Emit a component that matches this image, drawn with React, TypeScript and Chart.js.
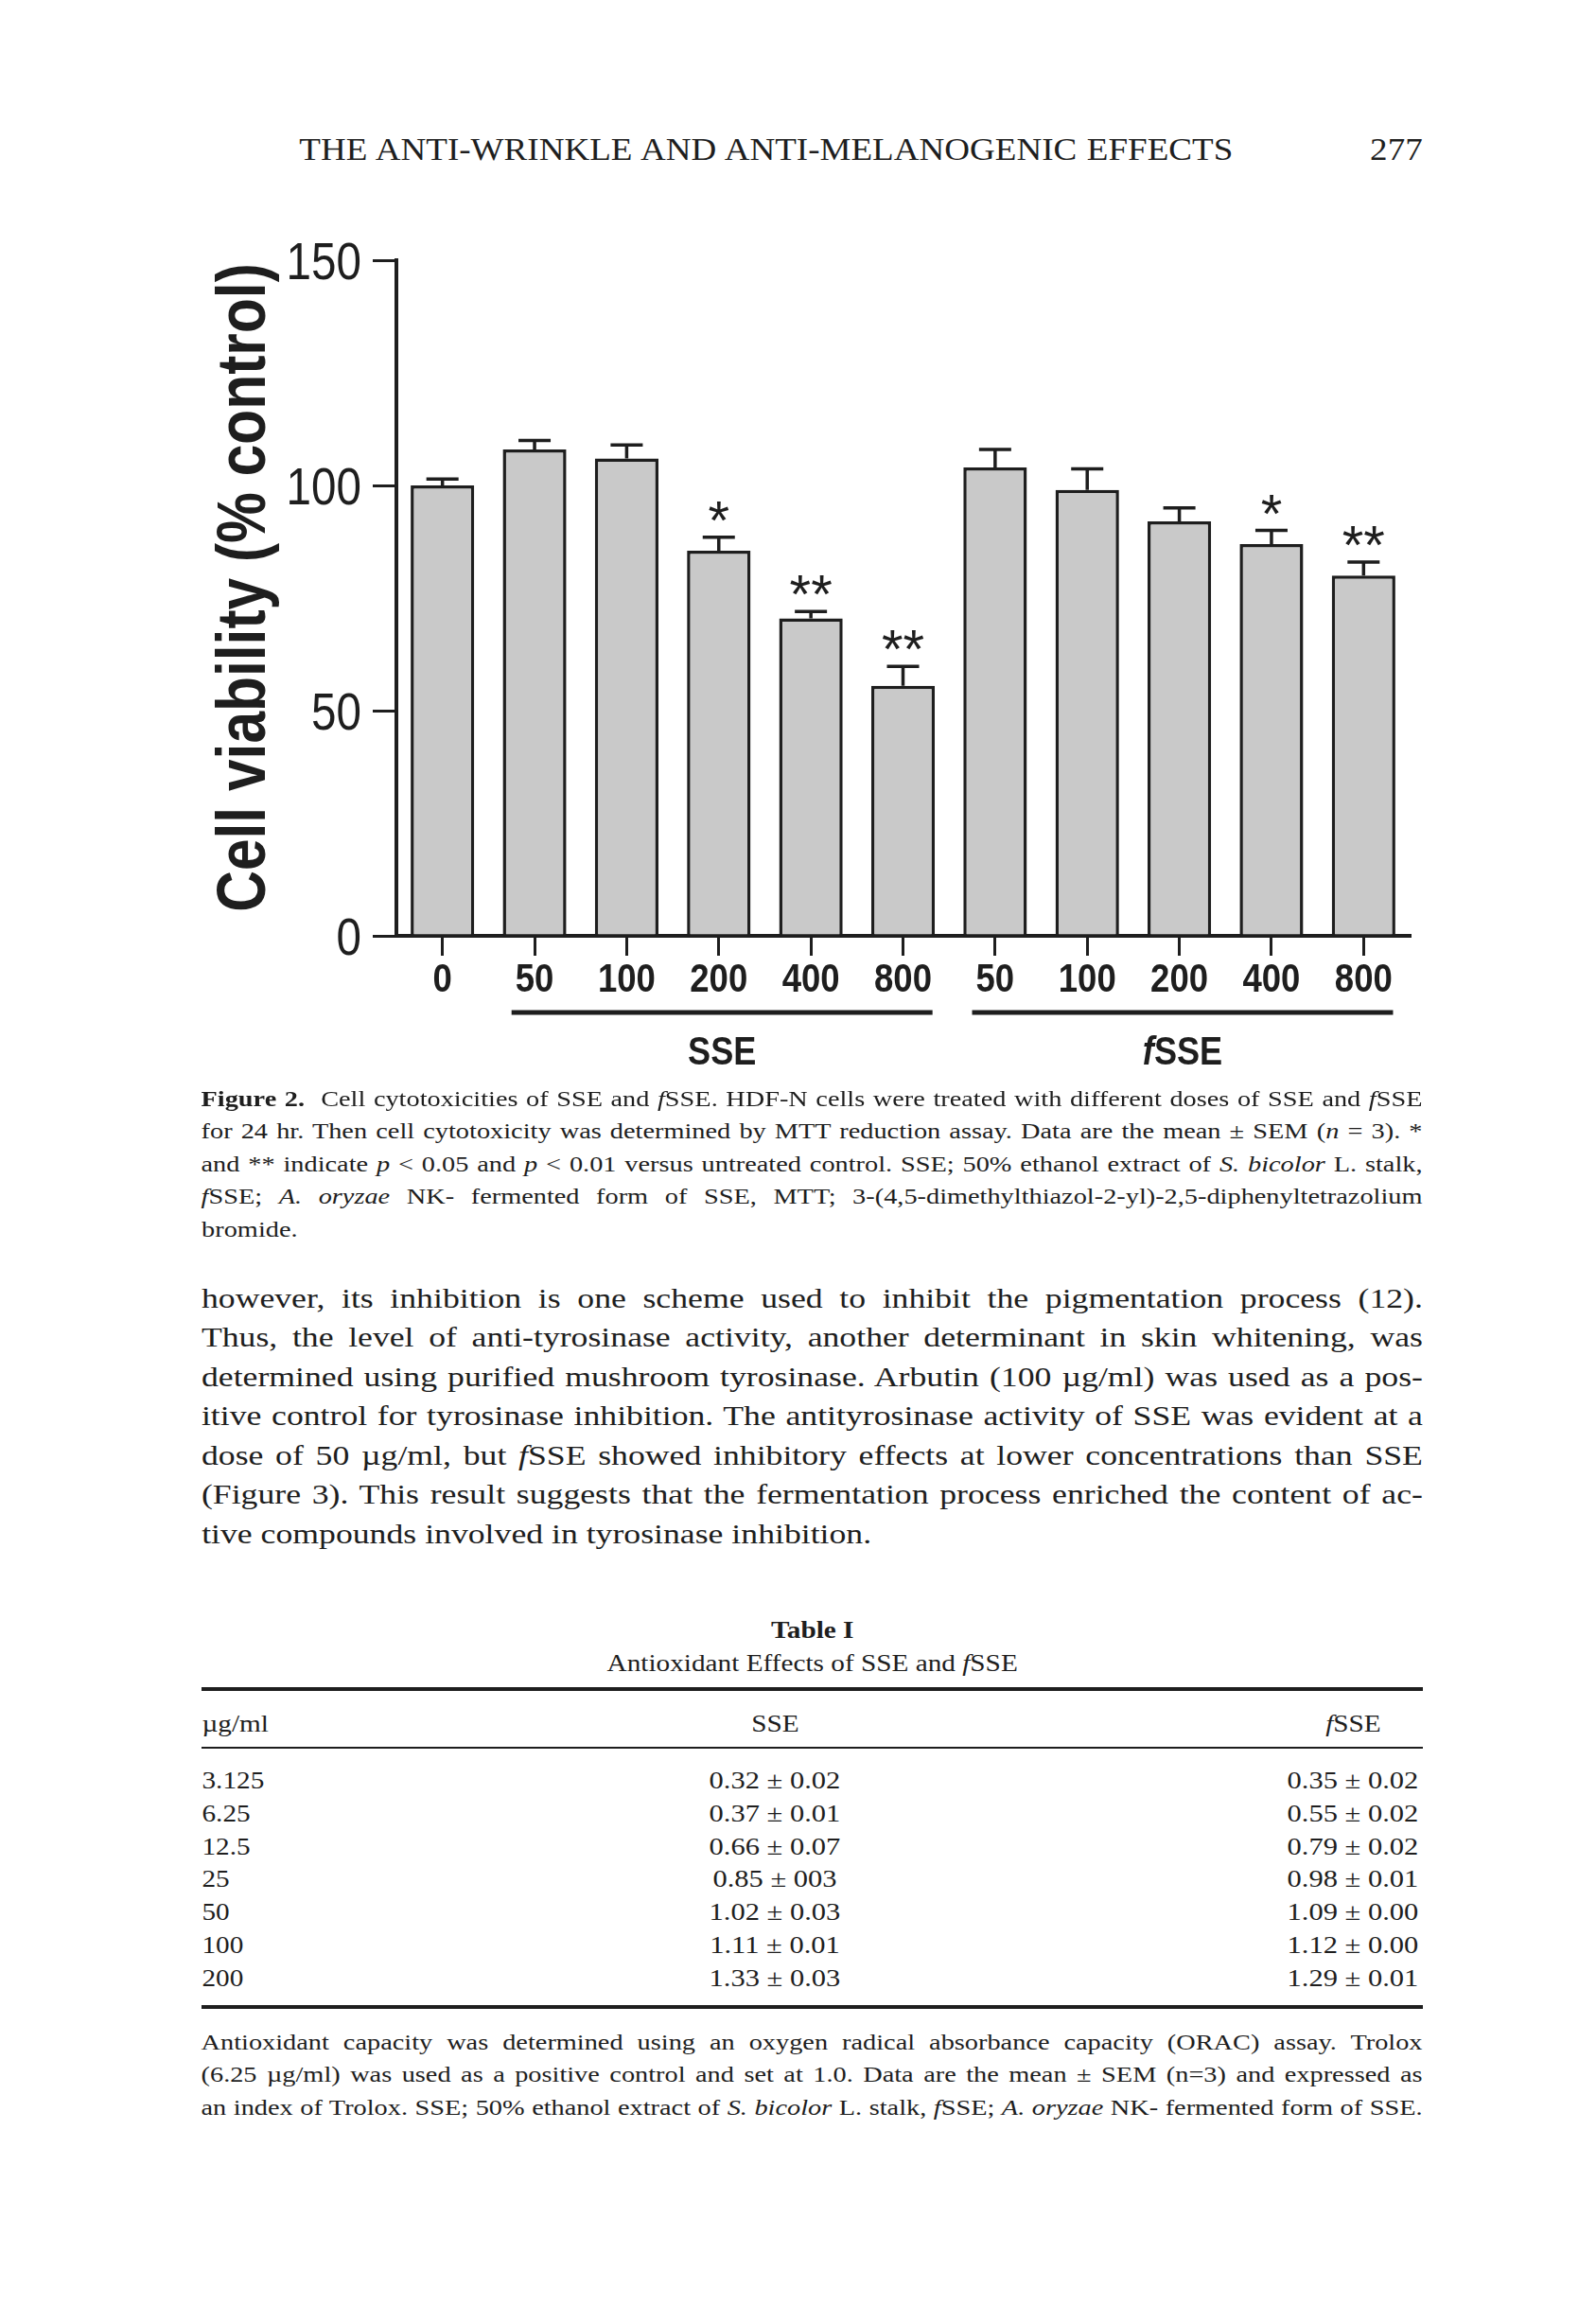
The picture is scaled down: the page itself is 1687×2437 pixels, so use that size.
import React, { useEffect, useRef } from "react";
import { Chart, registerables } from "chart.js";
Chart.register(...registerables);

// ---- chart data ----
const doses = ["0", "50", "100", "200", "400", "800", "50", "100", "200", "400", "800"];
const viability = [100, 108, 106, 85.5, 70.5, 55.5, 104, 99, 92, 87, 80];
const sem = [1.4, 2, 3, 3, 1.5, 4.3, 4, 4.7, 3, 3, 3];
const significance = ["", "", "", "*", "**", "**", "", "", "", "*", "**"];
const groupNames = ["SSE", "fSSE"];
const groupStart = [1, 6];
const groupEnd = [5, 10];
const yMin = 0;
const yMax = 150;
const yStep = 50;
const yTitle = "Cell viability (% control)";

// ---- table data ----
const tableDoses = ["3.125", "6.25", "12.5", "25", "50", "100", "200"];
const tableSSE = ["0.32 ± 0.02", "0.37 ± 0.01", "0.66 ± 0.07", "0.85 ± 003", "1.02 ± 0.03", "1.11 ± 0.01", "1.33 ± 0.03"];
const tableFSSE = ["0.35 ± 0.02", "0.55 ± 0.02", "0.79 ± 0.02", "0.98 ± 0.01", "1.09 ± 0.00", "1.12 ± 0.00", "1.29 ± 0.01"];

const INK = "#1e1e1e";
const SANS = "'Liberation Sans', Arial, sans-serif";
const SERIF = "'Liberation Serif', 'Times New Roman', serif";

// draw text horizontally condensed
function narrowText(ctx: any, text: string, x: number, y: number, font: string, sx: number, align: string) {
  ctx.save();
  ctx.translate(x, y);
  ctx.scale(sx, 1);
  ctx.font = font;
  ctx.textAlign = align;
  ctx.textBaseline = "alphabetic";
  ctx.fillText(text, 0, 0);
  ctx.restore();
}

const overlayPlugin = {
  id: "overlay",
  afterDatasetsDraw(chart: any) {
    const { ctx, scales } = chart;
    const x = scales.x;
    const y = scales.y;
    ctx.save();
    ctx.strokeStyle = INK;
    ctx.fillStyle = INK;
    ctx.lineWidth = 3.5;
    // error bars + significance marks
    viability.forEach((v, i) => {
      const cx = x.getPixelForValue(i);
      const yBar = y.getPixelForValue(v);
      const yTop = y.getPixelForValue(v + sem[i]);
      ctx.beginPath();
      ctx.moveTo(cx, yBar);
      ctx.lineTo(cx, yTop);
      ctx.moveTo(cx - 17, yTop);
      ctx.lineTo(cx + 17, yTop);
      ctx.stroke();
      if (significance[i]) {
        ctx.font = `58px ${SANS}`;
        ctx.textAlign = "center";
        ctx.textBaseline = "alphabetic";
        ctx.fillText(significance[i], cx, yTop + 2);
      }
    });
    // y tick labels
    y.ticks.forEach((t: any) => {
      const py = y.getPixelForValue(t.value);
      narrowText(ctx, String(t.value), y.right - 37, py + 20, `56px ${SANS}`, 0.85, "right");
    });
    // x tick labels
    doses.forEach((d, i) => {
      const px = x.getPixelForValue(i);
      narrowText(ctx, d, px, y.bottom + 59, `bold 42px ${SANS}`, 0.87, "center");
    });
    // group lines and labels
    const catW = x.getPixelForValue(1) - x.getPixelForValue(0);
    const lineY = y.bottom + 81;
    const labelBase = y.bottom + 136;
    groupNames.forEach((g, k) => {
      const x0 = x.getPixelForValue(groupStart[k]) - catW * 0.25;
      const x1 = x.getPixelForValue(groupEnd[k]) + catW * 0.32;
      ctx.lineWidth = 5;
      ctx.beginPath();
      ctx.moveTo(x0, lineY);
      ctx.lineTo(x1, lineY);
      ctx.stroke();
      const mid = (x0 + x1) / 2;
      const sx = 0.86;
      if (g.startsWith("f")) {
        ctx.font = `italic bold 42px ${SANS}`;
        const fw = ctx.measureText("f").width * sx;
        ctx.font = `bold 42px ${SANS}`;
        const rw = ctx.measureText(g.slice(1)).width * sx;
        const start = mid - (fw + rw) / 2;
        narrowText(ctx, "f", start, labelBase, `italic bold 42px ${SANS}`, sx, "left");
        narrowText(ctx, g.slice(1), start + fw, labelBase, `bold 42px ${SANS}`, sx, "left");
      } else {
        narrowText(ctx, g, mid, labelBase, `bold 42px ${SANS}`, sx, "center");
      }
    });
    // y axis title
    ctx.save();
    ctx.translate(80, (y.top + y.bottom) / 2 - 11);
    ctx.rotate(-Math.PI / 2);
    ctx.scale(0.84, 1);
    ctx.font = `bold 72px ${SANS}`;
    ctx.textAlign = "center";
    ctx.textBaseline = "alphabetic";
    ctx.fillText(yTitle, 0, 0);
    ctx.restore();
    ctx.restore();
  },
};

function ChartBox() {
  const ref = useRef<HTMLCanvasElement | null>(null);
  useEffect(() => {
    if (!ref.current) return;
    const chart = new Chart(ref.current, {
      type: "bar",
      data: {
        labels: doses,
        datasets: [
          {
            data: viability,
            backgroundColor: "#c9c9c9",
            borderColor: INK,
            borderWidth: 3.5,
            categoryPercentage: 1,
            barPercentage: 0.69,
          },
        ],
      },
      options: {
        animation: false,
        responsive: false,
        maintainAspectRatio: false,
        devicePixelRatio: 1,
        layout: { padding: { top: 50, right: 30, left: 0, bottom: 0 }, autoPadding: false },
        plugins: { legend: { display: false }, tooltip: { enabled: false } },
        scales: {
          x: {
            offset: true,
            grid: { offset: false, drawOnChartArea: false, tickLength: 21, lineWidth: 3, color: INK },
            border: { display: true, width: 4, color: INK },
            ticks: { display: false, autoSkip: false },
            afterFit: (s: any) => {
              s.height = 161;
            },
          },
          y: {
            min: yMin,
            max: yMax,
            ticks: { display: false, stepSize: yStep },
            grid: { drawOnChartArea: false, tickLength: 25, lineWidth: 3, color: INK },
            border: { display: true, width: 4, color: INK },
            title: { display: false, text: yTitle },
            afterFit: (s: any) => {
              s.width = 219;
            },
          },
        },
      } as any,
      plugins: [overlayPlugin],
    });
    return () => chart.destroy();
  }, []);
  return (
    <canvas
      ref={ref}
      width={1320}
      height={925}
      style={{ position: "absolute", left: 200, top: 225, width: 1320, height: 925 }}
    />
  );
}

const LEFT = 213;
const WIDTH = 1291;

function Line({ y, fs, children, justify = false, align = "left", left = LEFT, width = WIDTH, sx = 1, style = {} }: any) {
  const w = width / sx;
  return (
    <div
      style={{
        position: "absolute",
        left: left + (width - w) / 2,
        width: w,
        top: y - 0.8375 * fs,
        fontSize: fs,
        lineHeight: `${fs}px`,
        whiteSpace: "nowrap",
        textAlign: justify ? "justify" : align,
        textAlignLast: justify ? "justify" : align,
        transform: `scaleX(${sx})`,
        transformOrigin: "center top",
        ...style,
      }}
    >
      {children}
    </div>
  );
}

const F = () => <i>f</i>;

export default function App() {
  const capY = 1169;
  const capStep = 34.5;
  const bodyY = 1382;
  const bodyStep = 41.5;
  const rowY = 1890;
  const rowStep = 34.8;
  const noteY = 2166;
  const noteStep = 34.5;
  const CS = 1.18; // caption stretch
  const BS = 1.19; // body stretch
  const TS = 1.17; // table stretch
  return (
    <div
      style={{
        position: "absolute",
        left: 0,
        top: 0,
        width: 1687,
        height: 2437,
        background: "#fff",
        fontFamily: SERIF,
        color: INK,
        overflow: "hidden",
      }}
    >
      <Line y={169} fs={34} left={316} width={987} sx={1.09} justify>
        THE ANTI-WRINKLE AND ANTI-MELANOGENIC EFFECTS
      </Line>
      <Line y={169} fs={34} left={1400} width={104} sx={1.09} align="right">
        277
      </Line>

      <ChartBox />

      <Line y={capY} fs={24} sx={CS} justify>
        <b>Figure 2.</b>&nbsp; Cell cytotoxicities of SSE and <F />SSE. HDF-N cells were treated with different doses of SSE and <F />SSE
      </Line>
      <Line y={capY + capStep} fs={24} sx={CS} justify>
        for 24 hr. Then cell cytotoxicity was determined by MTT reduction assay. Data are the mean ± SEM (<i>n</i> = 3). *
      </Line>
      <Line y={capY + capStep * 2} fs={24} sx={CS} justify>
        and ** indicate <i>p</i> &lt; 0.05 and <i>p</i> &lt; 0.01 versus untreated control. SSE; 50% ethanol extract of <i>S. bicolor</i> L. stalk,
      </Line>
      <Line y={capY + capStep * 3} fs={24} sx={CS} justify>
        <F />SSE; <i>A. oryzae</i> NK- fermented form of SSE, MTT; 3-(4,5-dimethylthiazol-2-yl)-2,5-diphenyltetrazolium
      </Line>
      <Line y={capY + capStep * 4} fs={24} sx={CS} left={LEFT} width={300}>
        bromide.
      </Line>

      <Line y={bodyY} fs={30} sx={BS} justify>
        however, its inhibition is one scheme used to inhibit the pigmentation process (12).
      </Line>
      <Line y={bodyY + bodyStep} fs={30} sx={BS} justify>
        Thus, the level of anti-tyrosinase activity, another determinant in skin whitening, was
      </Line>
      <Line y={bodyY + bodyStep * 2} fs={30} sx={BS} justify>
        determined using purified mushroom tyrosinase. Arbutin (100 µg/ml) was used as a pos-
      </Line>
      <Line y={bodyY + bodyStep * 3} fs={30} sx={BS} justify>
        itive control for tyrosinase inhibition. The antityrosinase activity of SSE was evident at a
      </Line>
      <Line y={bodyY + bodyStep * 4} fs={30} sx={BS} justify>
        dose of 50 µg/ml, but <F />SSE showed inhibitory effects at lower concentrations than SSE
      </Line>
      <Line y={bodyY + bodyStep * 5} fs={30} sx={BS} justify>
        (Figure 3). This result suggests that the fermentation process enriched the content of ac-
      </Line>
      <Line y={bodyY + bodyStep * 6} fs={30} sx={BS} left={LEFT} width={900}>
        tive compounds involved in tyrosinase inhibition.
      </Line>

      <Line y={1731} fs={25} sx={TS} align="center" style={{ fontWeight: "bold" }}>
        Table I
      </Line>
      <Line y={1766} fs={25} sx={TS} align="center">
        Antioxidant Effects of SSE and <F />SSE
      </Line>
      <div style={{ position: "absolute", left: LEFT, width: WIDTH, top: 1783, height: 4, background: INK }} />
      <Line y={1830} fs={25} sx={TS} left={LEFT} width={200}>µg/ml</Line>
      <Line y={1830} fs={25} sx={TS} left={719} width={200} align="center">SSE</Line>
      <Line y={1830} fs={25} sx={TS} left={1330} width={200} align="center"><F />SSE</Line>
      <div style={{ position: "absolute", left: LEFT, width: WIDTH, top: 1846, height: 2, background: INK }} />
      {tableDoses.map((d, i) => (
        <React.Fragment key={i}>
          <Line y={rowY + rowStep * i} fs={25} sx={TS} left={LEFT} width={200}>{d}</Line>
          <Line y={rowY + rowStep * i} fs={25} sx={1.22} left={719} width={200} align="center">{tableSSE[i]}</Line>
          <Line y={rowY + rowStep * i} fs={25} sx={1.22} left={1330} width={200} align="center">{tableFSSE[i]}</Line>
        </React.Fragment>
      ))}
      <div style={{ position: "absolute", left: LEFT, width: WIDTH, top: 2119, height: 4, background: INK }} />

      <Line y={noteY} fs={24} sx={CS} justify>
        Antioxidant capacity was determined using an oxygen radical absorbance capacity (ORAC) assay. Trolox
      </Line>
      <Line y={noteY + noteStep} fs={24} sx={CS} justify>
        (6.25 µg/ml) was used as a positive control and set at 1.0. Data are the mean ± SEM (n=3) and expressed as
      </Line>
      <Line y={noteY + noteStep * 2} fs={24} sx={CS} justify>
        an index of Trolox. SSE; 50% ethanol extract of <i>S. bicolor</i> L. stalk, <F />SSE; <i>A. oryzae</i> NK- fermented form of SSE.
      </Line>
    </div>
  );
}
